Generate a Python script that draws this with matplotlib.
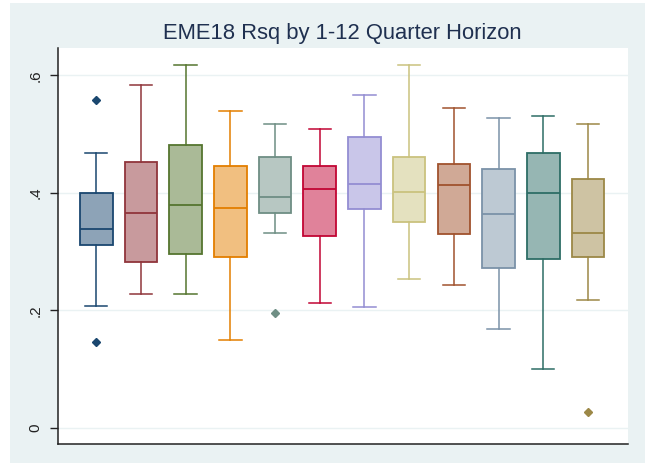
import matplotlib.pyplot as plt
import matplotlib.colors as mcolors
from matplotlib.patches import Rectangle

plt.rcParams['font.family'] = ['Liberation Sans', 'DejaVu Sans']

# box plot stats, horizons 1..12
whislo = [0.207, 0.227, 0.227, 0.150, 0.332, 0.212, 0.205, 0.253, 0.243, 0.169, 0.100, 0.218]
q1 = [0.312, 0.282, 0.296, 0.291, 0.366, 0.327, 0.373, 0.350, 0.330, 0.272, 0.288, 0.291]
med = [0.338, 0.366, 0.380, 0.375, 0.393, 0.407, 0.416, 0.402, 0.414, 0.364, 0.400, 0.332]
q3 = [0.400, 0.452, 0.482, 0.445, 0.461, 0.445, 0.495, 0.461, 0.450, 0.441, 0.468, 0.423]
whishi = [0.468, 0.584, 0.618, 0.539, 0.517, 0.509, 0.566, 0.618, 0.545, 0.527, 0.531, 0.518]
outliers = [[0.559, 0.146], [], [], [], [0.196], [], [], [], [], [], [], [0.026]]

# stata s2color line colours
colors = ['#1a476f', '#90353b', '#55752f', '#e37e00', '#6e8e84', '#c10534',
          '#938dd2', '#cac27e', '#a0522d', '#7b92a8', '#2d6d66', '#9c8847']

yticks = [0, 0.2, 0.4, 0.6]
yticklabels = ['0', '.2', '.4', '.6']

fig = plt.figure(figsize=(6.48, 4.63), dpi=100)
fig.patches.append(Rectangle((10 / 648, 0), 635 / 648, 460 / 463, transform=fig.transFigure,
                             facecolor='#eaf2f3', edgecolor='none', zorder=-1))
ax = fig.add_axes([57.7 / 648, 19.3 / 463, 570 / 648, 395.7 / 463])

stats = []
for i in range(len(med)):
    stats.append(dict(whislo=whislo[i], q1=q1[i], med=med[i], q3=q3[i],
                      whishi=whishi[i], fliers=outliers[i]))

for i, s in enumerate(stats):
    c = colors[i]
    fill = mcolors.to_rgb(c)
    fill = tuple(0.5 * v + 0.5 for v in fill)
    ax.bxp([s], positions=[i + 1], widths=0.73, patch_artist=True, capwidths=0.5,
           boxprops=dict(facecolor=fill, edgecolor=c, linewidth=1.3),
           medianprops=dict(color=c, linewidth=1.3),
           whiskerprops=dict(color=c, linewidth=1.1),
           capprops=dict(color=c, linewidth=1.1),
           flierprops=dict(marker='D', markerfacecolor=c, markeredgecolor=c, markersize=4.2))

ax.set_xlim(0.139, 12.888)
ax.set_ylim(-0.0272, 0.6468)
ax.set_xticks([])
ax.set_yticks(yticks)
ax.set_yticklabels(yticklabels, rotation=90, va='center', fontsize=11, color='#222222')
ax.tick_params(axis='y', length=6, width=1, color='#222222', pad=5)
ax.grid(axis='y', color='#eaf2f3', linewidth=1)
ax.set_axisbelow(True)
for side in ['top', 'right']:
    ax.spines[side].set_visible(False)
for side in ['left', 'bottom']:
    ax.spines[side].set_color('#222222')
    ax.spines[side].set_linewidth(1.1)

fig.text(342 / 648, 1 - 34 / 463, 'EME18 Rsq by 1-12 Quarter Horizon', ha='center', va='center',
         fontsize=15.8, color='#1f3050')

fig.savefig('out.png', dpi=100)
